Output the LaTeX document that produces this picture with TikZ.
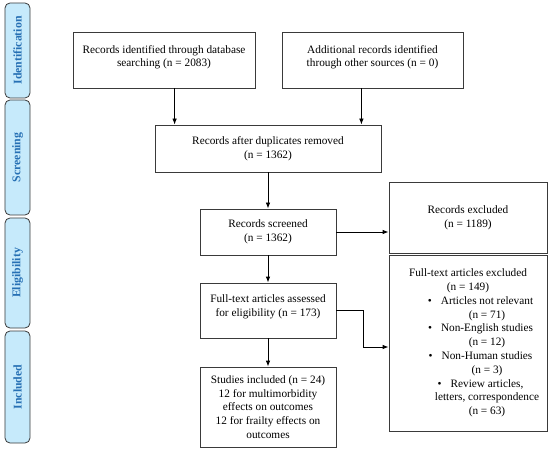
\documentclass[tikz,border=0pt]{standalone}
\usepackage{fontspec}
\setmainfont{Liberation Serif}
\usetikzlibrary{arrows.meta,calc}

\definecolor{phasefill}{HTML}{C6EAFB}
\definecolor{phasetext}{HTML}{2670B4}
\definecolor{boxline}{HTML}{3A3A3A}

\newcommand{\xitem}[1]{\hspace*{38bp}\llap{\textbullet\hspace{9bp}}#1}
\newcommand{\xline}[1]{\hspace*{38bp}#1}

\begin{document}
\begin{tikzpicture}[x=1bp,y=-1bp,
  font=\fontsize{11.3bp}{13.8bp}\selectfont,
  box/.style={draw=boxline, line width=0.8bp, align=center, inner sep=2bp},
  phase/.style={draw=boxline, line width=0.8bp, fill=phasefill, rounded corners=5bp,
    rotate=90, minimum height=25bp, inner sep=0pt,
    text=phasetext, font=\fontsize{11.8bp}{14bp}\selectfont\bfseries},
  arr/.style={-{Latex[length=6bp,width=4.5bp]}, draw=black, line width=0.8bp}]
\useasboundingbox (0,0) rectangle (550,450);

% phases
\node[phase, minimum width=95bp]  (idph) at (17.5,50.5) {Identification};
\node[phase, minimum width=115bp] (scph) at (17.5,157.5) {Screening};
\node[phase, minimum width=110bp] (elph) at (17.5,273) {Eligibility};
\node[phase, minimum width=112bp] (inph) at (17.5,387) {Included};

% boxes
\node[box, minimum width=182bp, minimum height=56bp, text depth=8bp] (ident) at (164,60)
  {Records identified through database\\searching (n = 2083)};
\node[box, minimum width=181bp, minimum height=56bp, text depth=8bp] (addl) at (372.5,60)
  {Additional records identified\\through other sources (n = 0)};
\node[box, minimum width=226bp, minimum height=47bp] (dup) at (268,148.5)
  {Records after duplicates removed\\(n = 1362)};
\node[box, minimum width=136bp, minimum height=46bp] (screen) at (268,232)
  {Records screened\\(n = 1362)};
\node[box, minimum width=158bp, minimum height=71bp] (excl) at (468,217.5)
  {Records excluded\\(n = 1189)};
\node[box, minimum width=136bp, minimum height=55bp, text depth=10bp] (assess) at (268,310.5)
  {Full-text articles assessed\\for eligibility (n = 173)};
\node[box, minimum width=136bp, minimum height=80bp] (incl) at (268,407)
  {Studies included (n = 24)\\12 for multimorbidity\\effects on outcomes\\12 for frailty effects on\\outcomes};
\node[box, minimum width=158bp, minimum height=176bp] (ftexcl) at (468,343)
  {Full-text articles excluded\\(n = 149)\\
   \xitem{Articles not relevant}\\\xline{(n = 71)}\\
   \xitem{Non-English studies}\\\xline{(n = 12)}\\
   \xitem{Non-Human studies}\\\xline{(n = 3)}\\
   \xitem{Review articles,}\\\xline{letters, correspondence}\\\xline{(n = 63)}};

% connectors
\coordinate (dupl) at ($(dup.north west)+(20,0)$);
\coordinate (dupr) at ($(dup.north east)+(-20,0)$);
\draw[arr] (ident.south -| dupl) -- (dupl);
\draw[arr] (addl.south -| dupr) -- (dupr);
\draw[arr] (dup) -- (screen);
\draw[arr] (screen) -- (assess);
\draw[arr] (assess) -- (incl);
\draw[arr] (screen.east) -- (screen.east -| excl.west);
\draw[arr] (assess.east) -- ++(27,0) |- ([yshift=-4bp]ftexcl.west);
\end{tikzpicture}
\end{document}
